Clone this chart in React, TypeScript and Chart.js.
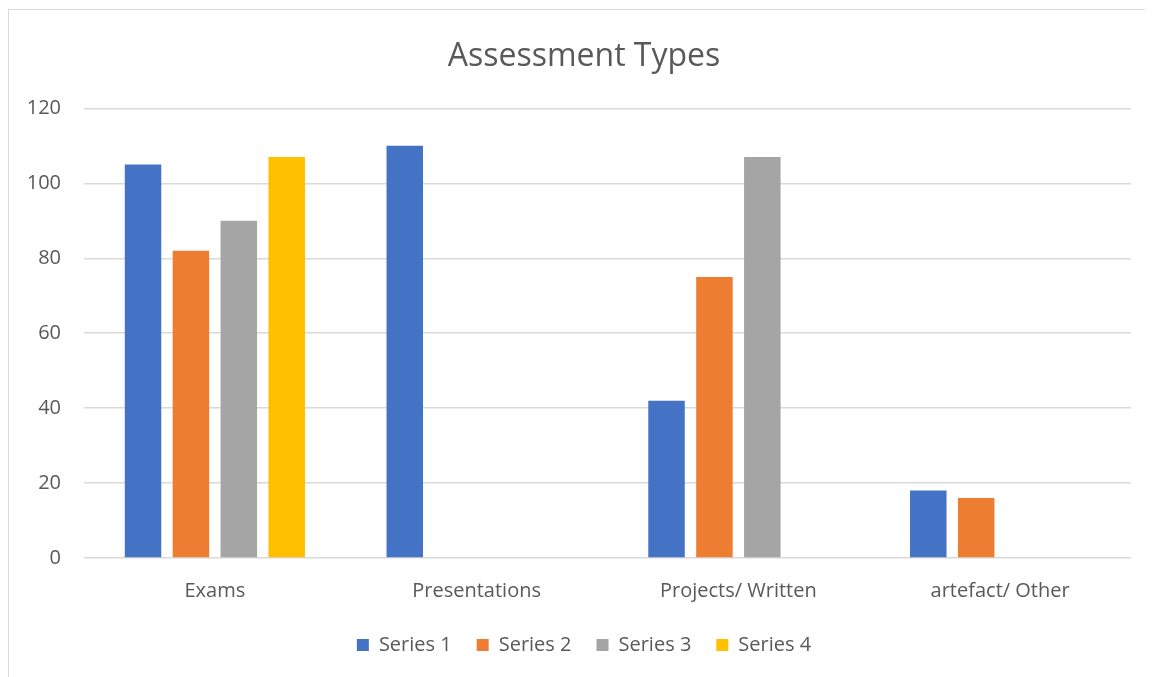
import React, { useEffect, useRef } from "react";
import { Chart, registerables } from "chart.js";

Chart.register(...registerables);

const categories = ["Exams", "Presentations", "Projects/ Written", "artefact/ Other"];
const series1 = [105, 110, 42, 18];
const series2 = [82, null, 75, 16];
const series3 = [90, null, 107, null];
const series4 = [107, null, null, null];
const seriesNames = ["Series 1", "Series 2", "Series 3", "Series 4"];
const seriesColors = ["#4472C4", "#ED7D31", "#A5A5A5", "#FFC000"];
const yTicks = { min: 0, max: 120, step: 20 };
const titleText = "Assessment Types";

const FONT = "'Open Sans', 'DejaVu Sans', sans-serif";
const TEXT = "#595959";

export default function App() {
  const ref = useRef<HTMLCanvasElement | null>(null);

  useEffect(() => {
    document.documentElement.style.overflow = "hidden";
    document.body.style.overflow = "hidden";
    if (!ref.current) return;
    const values = [series1, series2, series3, series4];
    const chart = new Chart(ref.current, {
      type: "bar",
      data: {
        labels: categories,
        datasets: values.map((v, i) => ({
          label: seriesNames[i],
          data: v,
          backgroundColor: seriesColors[i],
          borderWidth: 0,
          categoryPercentage: 0.732,
          barPercentage: 0.762,
        })),
      },
      options: {
        animation: false,
        responsive: false,
        maintainAspectRatio: false,
        layout: { padding: { left: 0, right: 0, top: 0, bottom: 4 } },
        plugins: {
          title: {
            display: true,
            text: titleText,
            color: TEXT,
            font: { family: FONT, size: 32, weight: "normal" },
            padding: { top: 28, bottom: 32 },
          },
          legend: {
            position: "bottom",
            labels: {
              color: TEXT,
              font: { family: FONT, size: 20 },
              boxWidth: 12,
              boxHeight: 12,
              padding: 25,
            },
          },
          tooltip: { enabled: false },
        },
        scales: {
          x: {
            grid: { display: false, drawTicks: false },
            border: { display: false },
            ticks: { color: TEXT, font: { family: FONT, size: 20 }, padding: 21 },
            afterFit: (s: any) => {
              s.height = 52;
            },
          },
          y: {
            min: yTicks.min,
            max: yTicks.max,
            grid: { color: "#d9d9d9", lineWidth: 1.5, drawTicks: false },
            border: { display: false },
            ticks: {
              stepSize: yTicks.step,
              color: TEXT,
              font: { family: FONT, size: 20 },
              padding: 23,
            },
            afterFit: (s: any) => {
              s.width = 75;
            },
          },
          yRight: {
            position: "right",
            min: yTicks.min,
            max: yTicks.max,
            grid: { display: false, drawTicks: false },
            border: { display: false },
            ticks: { display: false },
            afterFit: (s: any) => {
              s.width = 28;
            },
          },
        },
      },
    });
    return () => chart.destroy();
  }, []);

  return (
    <div
      style={{
        position: "relative",
        top: 1,
        width: 1145,
        height: 669,
        boxSizing: "border-box",
        borderLeft: "1px solid #d9d9d9",
        borderTop: "1px solid #d9d9d9",
        background: "#fff",
        overflow: "hidden",
      }}
    >
      <canvas ref={ref} width={1150} height={659} style={{ display: "block" }} />
    </div>
  );
}
